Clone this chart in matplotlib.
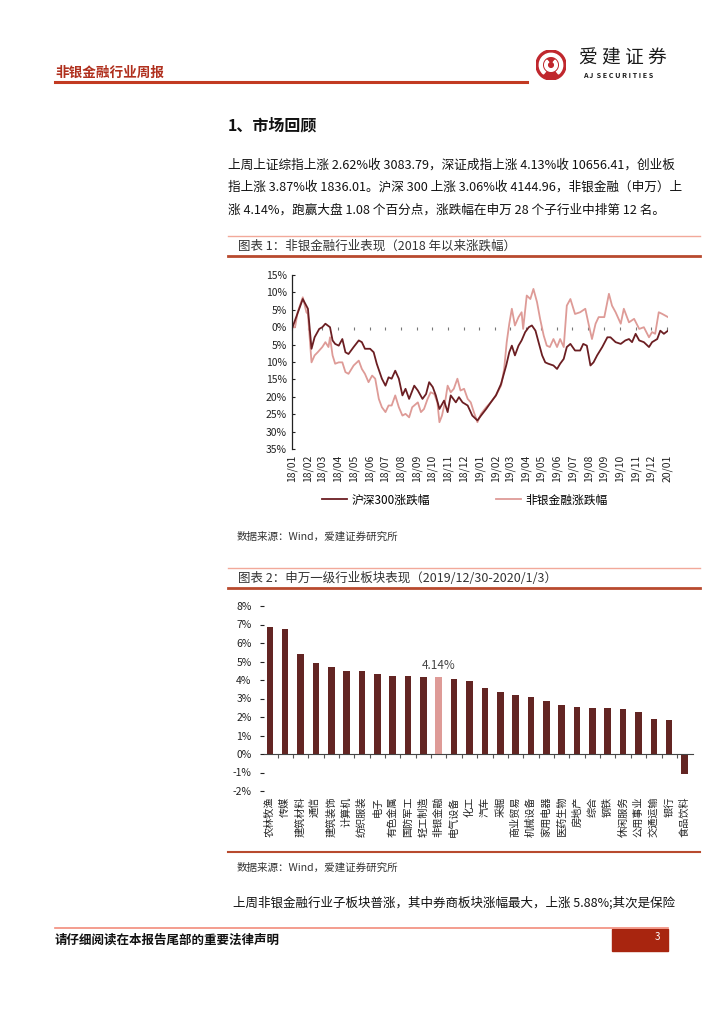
import numpy as np
import pandas as pd
import matplotlib
matplotlib.use('Agg')
import matplotlib.pyplot as plt
import matplotlib.dates as mdates
import matplotlib.transforms as mtransforms
from matplotlib.patches import Circle, Wedge, Rectangle
from matplotlib.lines import Line2D

plt.rcParams['font.family'] = ['Noto Sans CJK SC', 'DejaVu Sans']

# ---- chart 1: cumulative change since 2018 (%)
hs300_dates = ['2018-01-02', '2018-01-22', '2018-02-01', '2018-02-08', '2018-02-14', '2018-02-23',
               '2018-03-01', '2018-03-07', '2018-03-16', '2018-03-21', '2018-03-26',
               '2018-04-02', '2018-04-09', '2018-04-15', '2018-04-21',
               '2018-05-01', '2018-05-11', '2018-05-17', '2018-05-23',
               '2018-06-02', '2018-06-09', '2018-06-15', '2018-06-25',
               '2018-07-02', '2018-07-08', '2018-07-14', '2018-07-21', '2018-07-28',
               '2018-08-04', '2018-08-10', '2018-08-17', '2018-08-27',
               '2018-09-03', '2018-09-12', '2018-09-19', '2018-09-25',
               '2018-10-02', '2018-10-08', '2018-10-15', '2018-10-24', '2018-10-31',
               '2018-11-06', '2018-11-16', '2018-11-22', '2018-11-29',
               '2018-12-09', '2018-12-18', '2018-12-28',
               '2019-01-04', '2019-01-14', '2019-01-23',
               '2019-02-02', '2019-02-12', '2019-02-22', '2019-02-28',
               '2019-03-05', '2019-03-11', '2019-03-18', '2019-03-24', '2019-03-31',
               '2019-04-07', '2019-04-13', '2019-04-20', '2019-04-26',
               '2019-05-03', '2019-05-09', '2019-05-15', '2019-05-25',
               '2019-06-01', '2019-06-07', '2019-06-14', '2019-06-20', '2019-06-27',
               '2019-07-06', '2019-07-16', '2019-07-22', '2019-07-29',
               '2019-08-05', '2019-08-11', '2019-08-18', '2019-08-28',
               '2019-09-07', '2019-09-13', '2019-09-23',
               '2019-10-03', '2019-10-12', '2019-10-19', '2019-10-25',
               '2019-11-01', '2019-11-08', '2019-11-17', '2019-11-27',
               '2019-12-03', '2019-12-13', '2019-12-19', '2019-12-26', '2020-01-03']
hs300_vals = [0.0, 8.1, 5.3, -6.2, -2.9, -0.5,
              0.0, 1.0, 0.0, -3.8, -4.8,
              -5.3, -3.4, -7.2, -7.7,
              -5.7, -3.8, -4.3, -6.2,
              -6.2, -7.2, -10.5, -14.8,
              -16.8, -14.4, -14.8, -12.5, -14.8,
              -19.6, -17.7, -20.6, -16.8,
              -18.2, -20.6, -19.2, -15.8,
              -17.2, -19.6, -23.5, -21.1, -24.4,
              -19.6, -21.6, -20.1, -21.6,
              -22.5, -25.4, -26.8,
              -25.4, -23.5, -21.6,
              -19.6, -16.3, -11.0, -7.2,
              -5.3, -8.1, -5.3, -3.8, -1.4,
              0.0, 0.5, -1.0, -4.3,
              -8.1, -10.1, -10.5, -11.0,
              -12.0, -10.5, -9.1, -5.7, -4.8,
              -6.7, -6.7, -4.8, -5.3,
              -11.0, -10.1, -8.1, -5.7,
              -2.9, -2.9, -4.3,
              -4.8, -3.8, -3.4, -4.3,
              -1.9, -3.8, -4.3, -5.7,
              -4.3, -3.4, -1.0, -1.9, -1.0]

nonbank_dates = ['2018-01-02', '2018-01-07', '2018-01-12', '2018-01-22', '2018-01-29',
                 '2018-02-01', '2018-02-08', '2018-02-14', '2018-02-20',
                 '2018-03-01', '2018-03-07', '2018-03-13', '2018-03-16', '2018-03-21', '2018-03-26',
                 '2018-04-02', '2018-04-09', '2018-04-15', '2018-04-21',
                 '2018-05-01', '2018-05-11', '2018-05-17', '2018-05-23', '2018-05-30',
                 '2018-06-06', '2018-06-12', '2018-06-19', '2018-06-25',
                 '2018-07-02', '2018-07-08', '2018-07-14', '2018-07-21', '2018-07-28',
                 '2018-08-04', '2018-08-10', '2018-08-17', '2018-08-23',
                 '2018-09-03', '2018-09-09', '2018-09-15', '2018-09-22', '2018-09-28',
                 '2018-10-05', '2018-10-11', '2018-10-15', '2018-10-20', '2018-10-27', '2018-10-31',
                 '2018-11-06', '2018-11-12', '2018-11-19', '2018-11-25',
                 '2018-12-02', '2018-12-09', '2018-12-15', '2018-12-21', '2018-12-28',
                 '2019-01-04', '2019-01-14', '2019-01-23',
                 '2019-02-02', '2019-02-12', '2019-02-18', '2019-02-23', '2019-02-28',
                 '2019-03-05', '2019-03-11', '2019-03-18', '2019-03-24', '2019-03-27',
                 '2019-04-03', '2019-04-10', '2019-04-16', '2019-04-23', '2019-04-29',
                 '2019-05-06', '2019-05-12', '2019-05-18', '2019-05-25',
                 '2019-06-01', '2019-06-07', '2019-06-14', '2019-06-20', '2019-06-27',
                 '2019-07-06', '2019-07-16', '2019-07-26',
                 '2019-08-02', '2019-08-08', '2019-08-15', '2019-08-21',
                 '2019-09-01', '2019-09-10', '2019-09-16', '2019-09-23',
                 '2019-10-03', '2019-10-09', '2019-10-19', '2019-10-29',
                 '2019-11-08', '2019-11-17', '2019-11-27',
                 '2019-12-03', '2019-12-09', '2019-12-16', '2019-12-23', '2020-01-03']
nonbank_vals = [0.0, 0.0, 4.3, 8.6, 4.3,
                3.8, -10.1, -8.1, -7.2,
                -5.7, -4.3, -5.7, -2.9, -8.1, -10.5,
                -10.1, -10.1, -12.9, -13.4,
                -11.0, -9.6, -12.0, -13.4, -15.8,
                -13.9, -14.8, -20.6, -23.0,
                -24.4, -22.5, -22.5, -19.6, -23.0,
                -25.4, -24.9, -25.9, -23.0,
                -21.6, -24.4, -23.5, -20.6, -18.7,
                -19.2, -21.6, -27.3, -25.4, -20.6, -16.8,
                -18.7, -17.7, -14.8, -18.2,
                -17.7, -20.6, -21.6, -24.4, -27.3,
                -24.9, -23.0, -21.6,
                -19.6, -16.8, -12.0, -4.3, 1.0,
                5.3, 0.5, 2.9, 4.3, -0.5,
                9.1, 8.1, 11.0, 7.2, 2.4,
                -2.4, -5.3, -5.7, -3.4,
                -5.7, -3.4, -5.7, 6.2, 8.1,
                3.8, 4.3, 5.3,
                0.5, -3.4, 1.0, 2.9,
                2.9, 9.6, 6.2, 4.3,
                1.0, 5.3, 1.4, 2.4,
                -0.5, 0.0, -2.9,
                -1.4, -1.9, 4.3, 3.8, 2.9]

# ---- chart 2: SW level-1 industries, weekly change (%)
industries = ['农林牧渔', '传媒', '建筑材料', '通信', '建筑装饰', '计算机', '纺织服装', '电子',
              '有色金属', '国防军工', '轻工制造', '非银金融', '电气设备', '化工', '汽车', '采掘',
              '商业贸易', '机械设备', '家用电器', '医药生物', '房地产', '综合', '钢铁', '休闲服务',
              '公用事业', '交通运输', '银行', '食品饮料']
weekly_chg = [6.85, 6.78, 5.41, 4.91, 4.68, 4.51, 4.48, 4.35,
              4.21, 4.23, 4.17, 4.14, 4.08, 3.96, 3.58, 3.35,
              3.20, 3.06, 2.88, 2.63, 2.55, 2.50, 2.46, 2.45,
              2.28, 1.89, 1.82, -1.06]
highlight = '非银金融'

W, H = 724, 1024
fig = plt.figure(figsize=(W / 100, H / 100), dpi=100)


def fx(x):
    return x / W


def fy(y):
    return 1 - y / H


def txt(x, y, s, **kw):
    kw.setdefault('va', 'center')
    fig.text(fx(x), fy(y), s, **kw)


def hline(x0, x1, y, color, lw):
    fig.add_artist(Line2D([fx(x0), fx(x1)], [fy(y), fy(y)], color=color, lw=lw,
                          transform=fig.transFigure))


red = '#B0301E'
dark = '#632523'
pink = '#DE9B97'

# header
txt(55, 73, '非银金融行业周报', fontsize=9.8, weight='bold', color=red)
hline(55, 527, 82, '#C23A22', 2.2)
lax = fig.add_axes([fx(536), fy(80), 30 / W, 30 / H])
lax.set_xlim(-1, 1)
lax.set_ylim(-1, 1)
lax.set_aspect('equal')
lax.axis('off')
lax.add_patch(Circle((0, 0), 1, color='#C0272D'))
lax.add_patch(Wedge((0, 0), 0.78, -50, 230, width=0.2, color='white'))
lax.add_patch(Wedge((0, 0), 0.42, 130, 410, width=0.17, color='white'))
txt(579, 58, '爱 建 证 券', fontsize=13.5, color='#1a1a1a')
txt(583, 76, 'A J  S E C U R I T I E S', fontsize=5.2, color='#1a1a1a', weight='bold')

# section text
txt(228, 125, '1、市场回顾', fontsize=11.5, weight='bold', color='#111')
para = ['上周上证综指上涨 2.62%收 3083.79，深证成指上涨 4.13%收 10656.41，创业板',
        '指上涨 3.87%收 1836.01。沪深 300 上涨 3.06%收 4144.96，非银金融（申万）上',
        '涨 4.14%，跑赢大盘 1.08 个百分点，涨跌幅在申万 28 个子行业中排第 12 名。']
for i, line in enumerate(para):
    txt(228, 165 + i * 22.5, line, fontsize=9.1, color='#111')

# chart 1 frame
hline(228, 700, 236, '#F2A99A', 1.0)
txt(238, 246, '图表 1：非银金融行业表现（2018 年以来涨跌幅）', fontsize=9.0, color='#333')
hline(228, 700, 256, '#B84A2E', 2.0)

ax1 = fig.add_axes([fx(292), fy(449), (668 - 292) / W, (449 - 275) / H])
d_hs = mdates.date2num(pd.to_datetime(hs300_dates))
d_nb = mdates.date2num(pd.to_datetime(nonbank_dates))
ax1.plot(d_nb, nonbank_vals, color=pink, lw=1.3, label='非银金融涨跌幅')
ax1.plot(d_hs, hs300_vals, color='#6B1E22', lw=1.3, label='沪深300涨跌幅')
ax1.set_ylim(-35, 15)
ax1.set_xlim(mdates.date2num(pd.Timestamp('2018-01-01')), mdates.date2num(pd.Timestamp('2020-01-03')))
yt = np.arange(-35, 20, 5)
ax1.set_yticks(yt, labels=[f'{abs(v)}%' for v in yt])
ax1.tick_params(axis='y', direction='in', length=2.5, labelsize=7.5, colors='#222')
months = mdates.date2num(pd.date_range('2018-01-01', '2020-01-01', freq='MS'))
ax1.set_xticks(months)
ax1.tick_params(axis='x', direction='out', length=2.5, color='#777', labelbottom=False)
for s in ['top', 'right']:
    ax1.spines[s].set_visible(False)
ax1.spines['left'].set_color('#222')
ax1.spines['left'].set_linewidth(0.9)
ax1.spines['bottom'].set_position(('data', 0))
ax1.spines['bottom'].set_color('none')
sec1 = ax1.secondary_xaxis('bottom')
sec1.set_xticks(months, labels=[mdates.num2date(m).strftime('%y/%m') for m in months])
sec1.tick_params(length=0, labelsize=7.5, rotation=90, pad=4, colors='#222')
sec1.spines['bottom'].set_visible(False)

h, l = ax1.get_legend_handles_labels()
fig.legend(h[::-1], l[::-1], loc='center', bbox_to_anchor=(fx(465), fy(500)), ncol=2,
           frameon=False, fontsize=8.5, handlelength=2.1, columnspacing=5.6, handletextpad=0.4)
txt(237, 537, '数据来源：Wind，爱建证券研究所', fontsize=7.6, color='#333')

# chart 2 frame
hline(228, 700, 568, '#F2A99A', 1.0)
txt(238, 578, '图表 2：申万一级行业板块表现（2019/12/30-2020/1/3）', fontsize=9.0, color='#333')
hline(228, 700, 588, '#B84A2E', 2.0)

ax2 = fig.add_axes([fx(264), fy(791), (693 - 264) / W, (791 - 606) / H])
x = np.arange(len(industries))
colors = [pink if n == highlight else dark for n in industries]
ax2.bar(x, weekly_chg, width=0.43, color=colors)
ax2.set_xlim(-0.38, len(industries) - 0.45)
ax2.set_ylim(-2, 8)
yt2 = np.arange(-2, 9)
ax2.set_yticks(yt2, labels=[f'{v}%' for v in yt2])
ax2.tick_params(axis='y', direction='out', length=3, pad=6, labelsize=7.5, colors='#222')
ax2.set_xticks(np.arange(0.5, len(industries) - 1, 1))
ax2.tick_params(axis='x', direction='out', length=3, color='#555', labelbottom=False)
for s in ['top', 'right', 'left']:
    ax2.spines[s].set_visible(False)
ax2.spines['bottom'].set_position(('data', 0))
ax2.spines['bottom'].set_color('#444')
ax2.spines['bottom'].set_linewidth(0.8)
trans = mtransforms.blended_transform_factory(ax2.transData, ax2.transAxes)
for i, name in enumerate(industries):
    ax2.text(i, -0.03, name, transform=trans, rotation=90, ha='center', va='top',
             fontsize=7.3, color='#222')
hi = industries.index(highlight)
ax2.text(hi, weekly_chg[hi] + 0.3, f'{weekly_chg[hi]:.2f}%', ha='center', va='bottom',
         fontsize=8.5, color='#444')

hline(228, 700, 852, '#B84A2E', 1.5)
txt(237, 868, '数据来源：Wind，爱建证券研究所', fontsize=7.6, color='#333')

txt(233, 903, '上周非银金融行业子板块普涨，其中券商板块涨幅最大，上涨 5.88%;其次是保险',
    fontsize=9.0, color='#111')

# footer
hline(55, 668, 928, '#F28C7C', 1.2)
fig.add_artist(Rectangle((fx(612), fy(951)), 56 / W, 22 / H, color='#A8250F',
                         transform=fig.transFigure))
txt(655, 937, '3', fontsize=7, color='white')
txt(55, 940, '请仔细阅读在本报告尾部的重要法律声明', fontsize=9, weight='bold', color='#111')

fig.savefig('out.png', dpi=100)
